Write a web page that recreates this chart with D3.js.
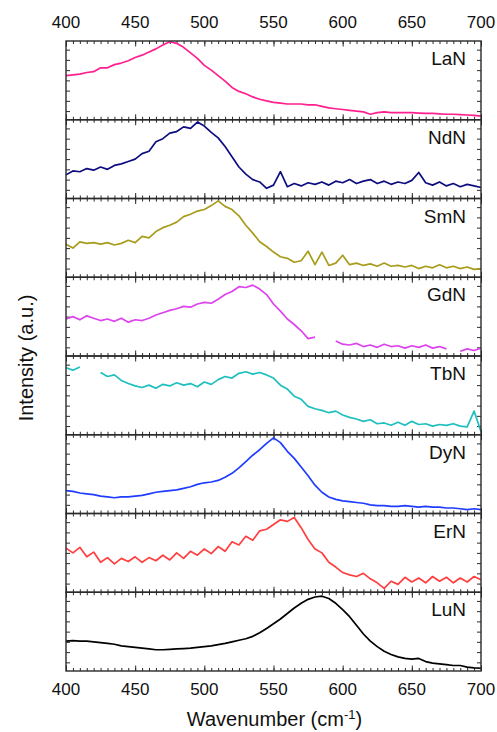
<!DOCTYPE html>
<meta charset="utf-8">
<head>
  <style>
    body { margin: 0; background: #fff; }
    text { font-family: Arial, "Liberation Sans", sans-serif; fill: #111; }
    .frame { fill: none; stroke: #2a2a2a; stroke-width: 1.4; }
    .tick line { stroke: #2a2a2a; stroke-width: 1; }
    .spec { fill: none; stroke-width: 1.7; stroke-linejoin: round; }
  </style>
</head>
<body>
  <script src="https://d3js.org/d3.v7.min.js"></script>
  <script>
    // wavenumber grid (cm-1), one value every 5
    var wavenumbers = [400, 405, 410, 415, 420, 425, 430, 435, 440, 445, 450, 455, 460, 465, 470, 475, 480, 485, 490, 495,
      500, 505, 510, 515, 520, 525, 530, 535, 540, 545, 550, 555, 560, 565, 570, 575, 580, 585, 590, 595,
      600, 605, 610, 615, 620, 625, 630, 635, 640, 645, 650, 655, 660, 665, 670, 675, 680, 685, 690, 695, 700];

    // normalised intensity inside each panel (0 = panel bottom, 1 = panel top), null = no data
    var lan = [.56, .57, .58, .60, .61, .66, .66, .70, .72, .75, .79, .82, .86, .90, .95, .99, .97, .92, .85, .78,
      .69, .63, .56, .49, .41, .36, .33, .29, .26, .24, .22, .21, .20, .20, .20, .19, .19, .17, .15, .14,
      .13, .12, .11, .10, .07, .09, .10, .09, .09, .09, .09, .085, .08, .08, .075, .07, .07, .065, .06, .055, .045];
    var ndn = [.30, .35, .34, .38, .36, .40, .37, .42, .44, .47, .50, .57, .60, .72, .76, .83, .85, .91, .89, .97,
      .92, .84, .77, .66, .53, .40, .31, .24, .21, .13, .17, .34, .15, .19, .16, .20, .18, .21, .17, .22,
      .20, .24, .19, .22, .24, .19, .22, .18, .21, .19, .23, .33, .20, .17, .21, .16, .19, .15, .18, .16, .14];
    var smn = [.42, .37, .45, .43, .44, .42, .44, .41, .43, .47, .44, .52, .50, .58, .63, .66, .70, .77, .80, .84,
      .86, .91, .97, .90, .86, .78, .66, .56, .45, .39, .32, .26, .24, .19, .21, .33, .16, .32, .15, .18,
      .28, .16, .18, .15, .17, .14, .18, .14, .15, .13, .15, .11, .14, .12, .16, .12, .14, .11, .13, .10, .11];
    var gdn = [.47, .50, .46, .51, .48, .45, .47, .44, .48, .43, .46, .45, .48, .52, .55, .58, .60, .63, .62, .66,
      .68, .67, .72, .78, .82, .88, .87, .90, .85, .78, .66, .57, .47, .40, .32, .22, .24, null, null, .19,
      .15, .14, .16, .12, .14, .11, .15, .12, .13, .10, .13, .11, .14, .10, .12, .09, null, .06, .09, .07, .10];
    var tbn = [.85, .82, .86, null, null, .79, .74, .76, .69, .65, .62, .60, .63, .59, .64, .62, .66, .63, .65, .61,
      .67, .64, .70, .74, .72, .78, .80, .77, .79, .76, .72, .63, .58, .49, .45, .36, .33, .31, .28, .30,
      .25, .22, .20, .17, .19, .14, .15, .12, .16, .12, .17, .13, .14, .11, .13, .12, .14, .11, .10, .30, .04];
    var dyn = [.29, .28, .26, .25, .24, .22, .21, .20, .21, .21, .22, .23, .25, .27, .28, .29, .30, .32, .34, .37,
      .39, .40, .42, .46, .51, .58, .66, .74, .81, .89, .96, .90, .79, .70, .59, .48, .36, .27, .21, .18,
      .16, .15, .14, .13, .11, .10, .10, .09, .09, .10, .09, .08, .09, .08, .08, .07, .07, .06, .05, .06, .05];
    var ern = [.56, .50, .57, .45, .51, .38, .44, .36, .43, .39, .45, .38, .44, .40, .47, .41, .50, .43, .52, .47,
      .55, .49, .58, .52, .64, .60, .71, .66, .78, .80, .86, .92, .90, .95, .82, .67, .55, .50, .38, .32,
      .25, .22, .20, .24, .17, .12, .05, .14, .10, .19, .13, .18, .12, .20, .14, .19, .12, .18, .13, .20, .16];
    var lun = [.38, .385, .38, .38, .37, .36, .35, .34, .32, .31, .30, .29, .28, .27, .27, .275, .28, .285, .29, .30,
      .31, .32, .335, .35, .37, .39, .41, .44, .485, .54, .60, .66, .73, .80, .86, .91, .94, .95, .92, .86,
      .78, .69, .58, .47, .38, .31, .25, .21, .18, .16, .15, .16, .12, .10, .09, .08, .07, .07, .05, .04, .035];

    var names = ["LaN", "NdN", "SmN", "GdN", "TbN", "DyN", "ErN", "LuN"];
    var colors = ["#ff1f8e", "#0d0d80", "#a89c1c", "#dd44ee", "#1fbfbf", "#1f3cff", "#ff3f3f", "#000000"];
    var series = [lan, ndn, smn, gdn, tbn, dyn, ern, lun];

    var xTickLabels = [400, 450, 500, 550, 600, 650, 700];
    var xMinorTicks = d3.range(400, 701, 5);
    var yTicks = [.11, .24, .37, .50, .63, .76, .89];

    var W = 497, H = 732;
    var plotLeft = 66, plotRight = 481, plotTop = 41, plotBottom = 671;
    var panelH = (plotBottom - plotTop) / names.length;

    var svg = d3.select("body").append("svg")
      .attr("width", W)
      .attr("height", H);

    var x = d3.scaleLinear().domain([400, 700]).range([plotLeft, plotRight]);
    var y = d3.scaleLinear().domain([0, 1]).range([panelH, 0]);

    var line = d3.line()
      .defined(function (d) { return d != null; })
      .x(function (d, i) { return x(wavenumbers[i]); })
      .y(function (d) { return y(d); });

    names.forEach(function (name, k) {
      var g = svg.append("g")
        .attr("transform", "translate(0," + (plotTop + k * panelH) + ")");

      // ticks pointing inward on all four sides
      var tickSides = [
        { ax: d3.axisBottom(x), t: "translate(0,0)" },
        { ax: d3.axisTop(x), t: "translate(0," + panelH + ")" }
      ];
      tickSides.forEach(function (s) {
        g.append("g").attr("transform", s.t)
          .call(s.ax.tickValues(xMinorTicks).tickSizeInner(3).tickSizeOuter(0).tickFormat(""))
          .call(function (a) { a.select(".domain").remove(); });
        g.append("g").attr("transform", s.t)
          .call(s.ax.tickValues(xTickLabels).tickSizeInner(5.5).tickSizeOuter(0).tickFormat(""))
          .call(function (a) { a.select(".domain").remove(); });
      });
      g.append("g").attr("transform", "translate(" + plotLeft + ",0)")
        .call(d3.axisRight(y).tickValues(yTicks).tickSizeInner(4).tickSizeOuter(0).tickFormat(""))
        .call(function (a) { a.select(".domain").remove(); });
      g.append("g").attr("transform", "translate(" + plotRight + ",0)")
        .call(d3.axisLeft(y).tickValues(yTicks).tickSizeInner(4).tickSizeOuter(0).tickFormat(""))
        .call(function (a) { a.select(".domain").remove(); });

      g.append("path")
        .datum(series[k])
        .attr("class", "spec")
        .attr("stroke", colors[k])
        .attr("d", line);

      g.append("rect")
        .attr("class", "frame")
        .attr("x", plotLeft)
        .attr("y", 0)
        .attr("width", plotRight - plotLeft)
        .attr("height", panelH);

      g.append("text")
        .attr("x", 466)
        .attr("y", 24)
        .attr("text-anchor", "end")
        .style("font-size", "19px")
        .text(name);
    });

    // tick labels top and bottom
    [28, 695].forEach(function (yy) {
      svg.append("g").selectAll("text")
        .data(xTickLabels)
        .enter().append("text")
        .attr("x", function (d) { return x(d); })
        .attr("y", yy)
        .attr("text-anchor", "middle")
        .style("font-size", "17px")
        .text(function (d) { return d; });
    });

    var xTitle = svg.append("text")
      .attr("x", (plotLeft + plotRight) / 2 + 1)
      .attr("y", 726)
      .attr("text-anchor", "middle")
      .style("font-size", "20px");
    xTitle.append("tspan").text("Wavenumber  (cm");
    xTitle.append("tspan").attr("dy", -7).style("font-size", "13px").text("-1");
    xTitle.append("tspan").attr("dy", 7).text(")");

    svg.append("text")
      .attr("transform", "translate(33," + 358 + ") rotate(-90)")
      .attr("text-anchor", "middle")
      .style("font-size", "20px")
      .text("Intensity  (a.u.)");
  </script>
</body>
